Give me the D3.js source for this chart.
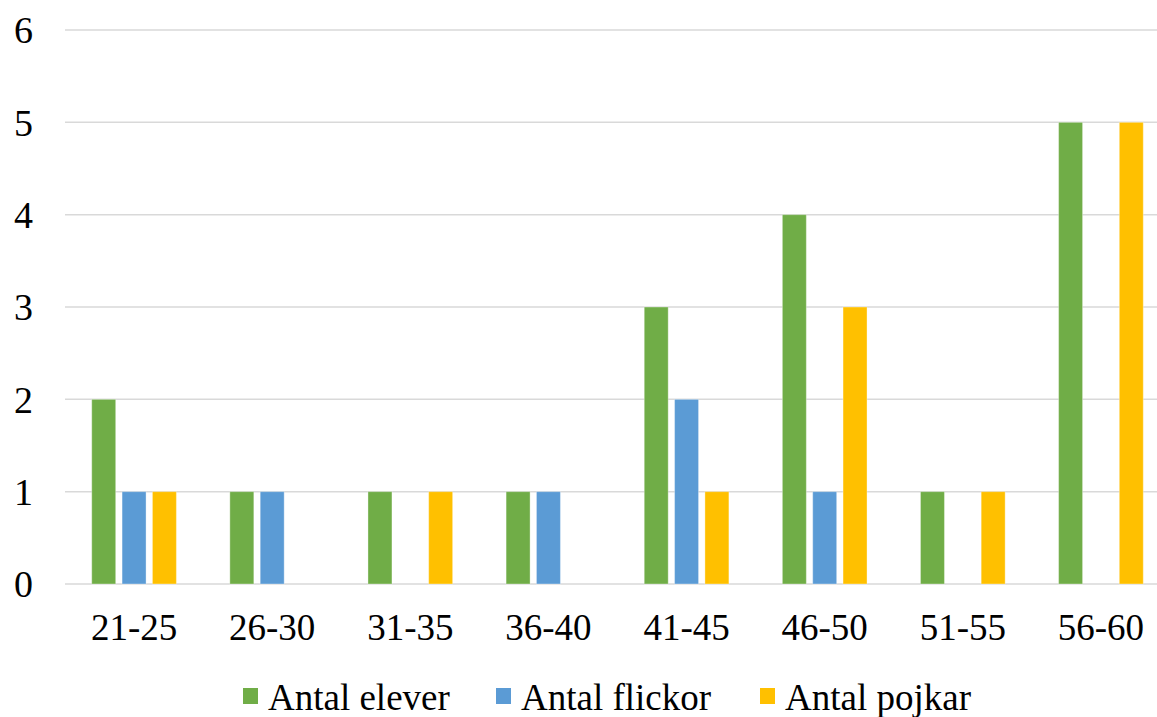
<!DOCTYPE html>
<html><head><meta charset="utf-8">
<script src="https://cdn.jsdelivr.net/npm/d3@7"></script>
<style>html,body{margin:0;padding:0;background:#fff;}svg{display:block;}</style>
</head><body>
<svg id="c" width="1157" height="717"></svg>
<script>
const categories = ["21-25","26-30","31-35","36-40","41-45","46-50","51-55","56-60"];
const seriesNames = ["Antal elever","Antal flickor","Antal pojkar"];
const antalElever = [2,1,1,1,3,4,1,5];
const antalFlickor = [1,1,0,1,2,1,0,0];
const antalPojkar = [1,0,1,0,1,3,1,5];
const yTicks = [0,1,2,3,4,5,6];
const colors = ["#70AD47","#5B9BD5","#FFC000"];

const seriesValues = [antalElever, antalFlickor, antalPojkar];
const svg = d3.select("#c");
const font = "'Liberation Serif','Times New Roman',serif";

const x0 = d3.scaleBand().domain(categories).range([65, 1170]).paddingInner(0.387).paddingOuter(0.1935);
const x1 = d3.scaleBand().domain(seriesNames).range([0, x0.bandwidth()]).paddingInner(0.21);
const y = d3.scaleLinear().domain([0,6]).range([584, 30]);

// gridlines
svg.append("g").selectAll("line").data(yTicks).join("line")
  .attr("x1", 65).attr("x2", 1170)
  .attr("y1", d => y(d)).attr("y2", d => y(d))
  .attr("stroke", "#d9d9d9").attr("stroke-width", 1.5);

// y labels
svg.append("g").selectAll("text").data(yTicks).join("text")
  .attr("x", 33).attr("y", d => y(d)).attr("dy", "0.35em")
  .attr("text-anchor", "end")
  .style("font-family", font).style("font-size", "38px").attr("fill", "#000")
  .text(d => d);

// bars
const groups = svg.append("g").selectAll("g").data(categories).join("g")
  .attr("transform", d => `translate(${x0(d)},0)`);
groups.selectAll("rect")
  .data((c, i) => seriesNames.map((s, j) => ({s, j, v: seriesValues[j][i]})).filter(d => d.v > 0))
  .join("rect")
  .attr("x", d => x1(d.s)).attr("width", x1.bandwidth())
  .attr("y", d => y(d.v)).attr("height", d => y(0) - y(d.v))
  .attr("fill", d => colors[d.j])
  .attr("stroke", "#fff").attr("stroke-opacity", 0.35).attr("stroke-width", 1);

// x labels
svg.append("g").selectAll("text").data(categories).join("text")
  .attr("x", d => x0(d) + x0.bandwidth()/2).attr("y", 640)
  .attr("text-anchor", "middle")
  .style("font-family", font).style("font-size", "37px").attr("fill", "#000")
  .text(d => d);

// legend
const legendX = [243, 496, 760];
const lg = svg.append("g").selectAll("g").data(seriesNames).join("g")
  .attr("transform", (d, i) => `translate(${legendX[i]},0)`);
lg.append("rect").attr("x", 0).attr("y", 688).attr("width", 15).attr("height", 16)
  .attr("fill", (d, i) => colors[i]);
lg.append("text").attr("x", 25).attr("y", 710)
  .style("font-family", font).style("font-size", "37px").attr("fill", "#000")
  .text(d => d);
</script>
</body></html>
